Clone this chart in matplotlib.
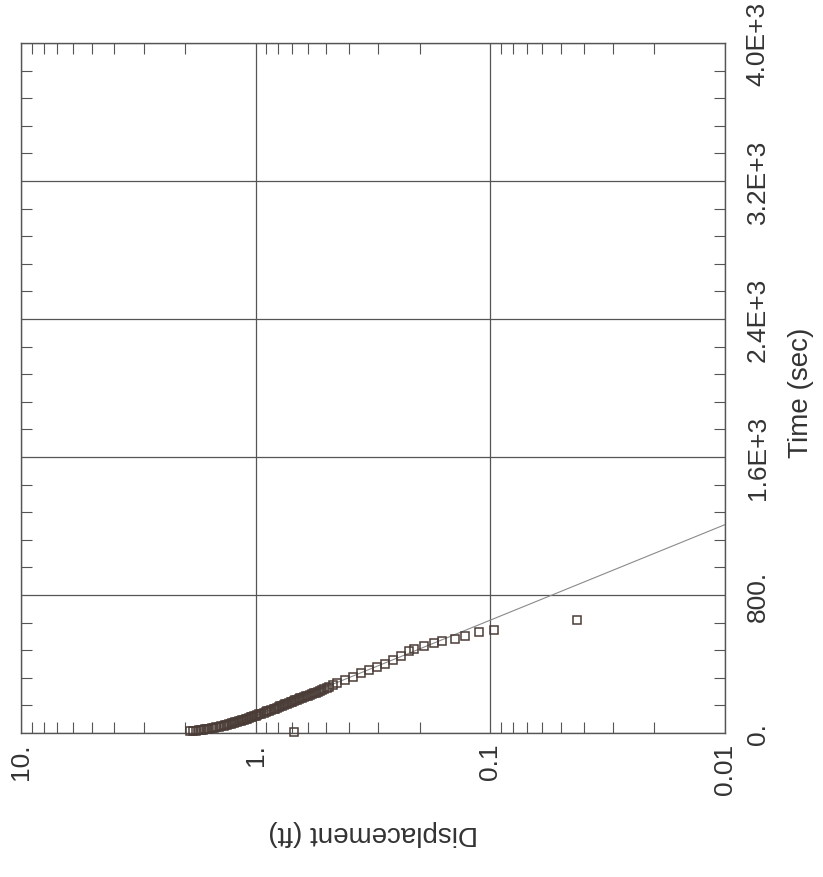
import matplotlib
matplotlib.use("Agg")
import matplotlib.pyplot as plt
from matplotlib.ticker import FixedLocator, LogLocator, NullFormatter, MultipleLocator

plt.rcParams['font.family'] = ['Liberation Sans', 'DejaVu Sans']

# observed data (time in sec, displacement in ft)
time_s = [10, 12, 14, 16, 18, 20, 22, 24, 26, 28, 30, 33, 36, 39, 42, 45, 48,
          51, 54, 57, 60, 63, 66, 69, 72, 75, 78, 81, 84, 87, 90, 93, 96, 100,
          104, 108, 112, 117, 121, 125, 129, 133, 138, 142, 146, 150, 154,
          158, 162, 166, 170, 174, 178, 181, 185, 189, 193, 197, 201, 205,
          209, 213, 217, 221, 225, 229, 232, 238, 244, 250, 256, 262, 268,
          280, 292, 309, 327, 345, 363, 381, 399, 423, 446, 475, 487, 505,
          523, 535, 547, 565, 583, 595, 655, 8]
disp_ft = [1.90, 1.85, 1.80, 1.75, 1.71, 1.67, 1.64, 1.61, 1.58, 1.54, 1.51,
           1.47, 1.44, 1.40, 1.37, 1.35, 1.33, 1.30, 1.28, 1.26, 1.24, 1.22,
           1.20, 1.18, 1.16, 1.14, 1.12, 1.10, 1.09, 1.07, 1.05, 1.04, 1.02,
           1.00, 0.983, 0.966, 0.948, 0.925, 0.908, 0.891, 0.875, 0.858,
           0.838, 0.824, 0.810, 0.797, 0.784, 0.771, 0.759, 0.747, 0.735,
           0.722, 0.710, 0.699, 0.688, 0.677, 0.666, 0.655, 0.645, 0.634,
           0.624, 0.612, 0.601, 0.589, 0.577, 0.565, 0.555, 0.545, 0.534,
           0.523, 0.511, 0.499, 0.488, 0.469, 0.451, 0.417, 0.385, 0.356,
           0.329, 0.304, 0.281, 0.260, 0.240, 0.222, 0.211, 0.191, 0.173,
           0.160, 0.142, 0.128, 0.112, 0.0962, 0.0428, 0.688]

# straight-line fit
fit_time = [0, 1208]
fit_disp = [1.52, 0.01]

disp_ticks = [10, 1, 0.1, 0.01]
disp_labels = ['10.', '1.', '0.1', '0.01']
time_ticks = [0, 800, 1600, 2400, 3200, 4000]
time_labels = ['0.', '800.', '1.6E+3', '2.4E+3', '3.2E+3', '4.0E+3']

W, H = 823, 878
fig = plt.figure(figsize=(W / 100, H / 100), dpi=100)
fig.patch.set_facecolor('white')
ax = fig.add_axes([21 / W, (H - 734) / H, 704 / W, 690 / H])

ax.set_xscale('log')
ax.set_xlim(10, 0.01)
ax.set_ylim(0, 4000)

framec = '#555555'
ax.plot(fit_disp, fit_time, color='#8a8a8a', lw=0.8, zorder=2)
ax.plot(disp_ft, time_s, ls='none', marker='s', ms=6.0, mfc='none',
        mec='#4a3c36', mew=1.1, zorder=3, clip_on=False)

ax.xaxis.set_major_locator(FixedLocator(disp_ticks))
ax.set_xticklabels(disp_labels)
ax.xaxis.set_minor_locator(LogLocator(base=10, subs=range(2, 10)))
ax.xaxis.set_minor_formatter(NullFormatter())
ax.yaxis.set_major_locator(FixedLocator(time_ticks))
ax.set_yticklabels(time_labels)
ax.yaxis.set_minor_locator(MultipleLocator(160))

ax.grid(True, which='major', color=framec, lw=0.9)
for s in ax.spines.values():
    s.set_color(framec)
    s.set_linewidth(1.0)

ax.tick_params(axis='both', which='both', direction='in', color=framec,
               width=0.8, top=True, bottom=True, left=True, right=True)
ax.tick_params(axis='both', which='major', length=0)
ax.tick_params(axis='both', which='minor', length=8)
ax.tick_params(axis='x', labelsize=19, pad=7, labelcolor='#333333')
ax.tick_params(axis='y', labelsize=19, pad=15, labelleft=False,
               labelright=True, labelcolor='#333333')
for lab in ax.get_xticklabels():
    lab.set_rotation(90)
    lab.set_va('top')
    lab.set_ha('center')
for lab in ax.get_yticklabels():
    lab.set_rotation(90)
    lab.set_va('center')
    lab.set_ha('left')

fig.text(373 / W, 1 - 833 / H, 'Displacement (ft)', rotation=180,
         ha='center', va='center', fontsize=20, color='#333333')
fig.text(801 / W, 1 - 393 / H, 'Time (sec)', rotation=90,
         ha='center', va='center', fontsize=20, color='#333333')

fig.savefig('out.png', dpi=100, facecolor='white')
